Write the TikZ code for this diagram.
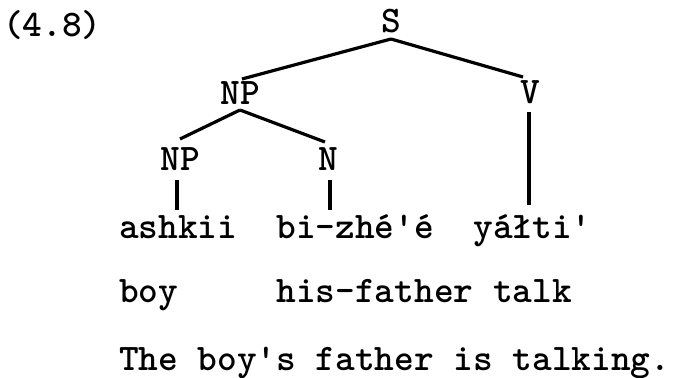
\documentclass[tikz,border=0pt]{standalone}
\begin{document}
\begin{tikzpicture}[x=1pt,y=-1pt,
  tt/.style={font=\ttfamily\bfseries\fontsize{37.5}{40}\selectfont, inner sep=0pt, outer sep=0pt},
  cat/.style={tt, anchor=base, text height=21pt, text depth=0pt},
  word/.style={tt, anchor=base west, text height=28pt, text depth=0pt},
  branch/.style={line width=3.2pt}]
\useasboundingbox (0,0) rectangle (676,377);
% label
\node[tt, anchor=base west] (num) at (3,37) {(4.8)};
% tree categories
\node[cat] (s) at (391,33) {S};
\node[cat] (np) at (240,105) {NP};
\node[cat] (v) at (530,103) {V};
\node[cat] (np3) at (180,170) {NP};
\node[cat] (n) at (328,170) {N};
% words
\node[word] (w1) at (119,238) {ashkii};
\node[word] (w2) at (276.5,238) {bi-zhé'é};
\node[word] (w3) at (473.4,238) {yáłti'};
\node[word] (g1) at (119,302) {boy};
\node[word] (g2) at (276.5,302) {his-father};
\node[word] (g3) at (493.1,302) {talk};
\node[word] (tr) at (119,370) {The boy's father is talking.};
% branches
\draw[branch] ([yshift=-6pt]s.south) -- ([xshift=2pt,yshift=5pt]np.north);
\draw[branch] ([yshift=-6pt]s.south) -- ([xshift=-7pt,yshift=5pt]v.north);
\draw[branch] ([yshift=-5pt]np.south) -- ([yshift=10pt]np3.north);
\draw[branch] ([yshift=-5pt]np.south) -- ([xshift=-3pt,yshift=7pt]n.north);
\draw[branch] ([xshift=-3pt,yshift=-10pt]np3.south) -- ([xshift=-3pt]np3.south |- w1.north);
\draw[branch] ([xshift=2pt,yshift=-10pt]n.south) -- ([xshift=2pt]n.south |- w2.north);
\draw[branch] ([xshift=-1pt,yshift=-9pt]v.south) -- ([xshift=-1pt,yshift=5pt]v.south |- w3.north);
\end{tikzpicture}
\end{document}
